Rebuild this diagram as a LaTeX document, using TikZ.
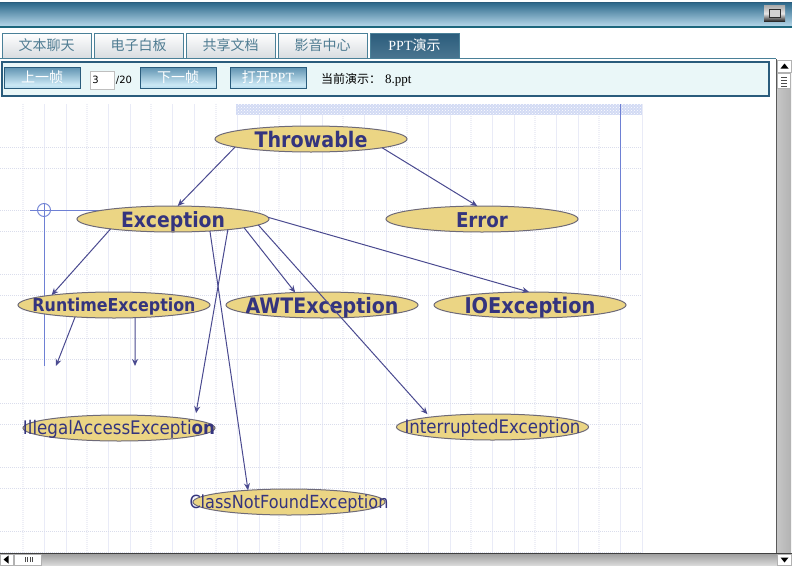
\documentclass[tikz,border=0pt]{standalone}
\usepackage{fontspec}
\usepackage{graphicx}
\setmainfont{DejaVu Sans}
\newfontfamily\cjk{Noto Sans CJK SC}
\newfontfamily\lat{Liberation Serif}
\usetikzlibrary{shapes.geometric,arrows.meta,patterns}
\definecolor{bandtop}{HTML}{2F6A8C}
\definecolor{bandbot}{HTML}{B4D6E8}
\definecolor{bordr}{HTML}{2A5C7C}
\definecolor{tabline}{HTML}{4A8098}
\definecolor{tabtxt}{HTML}{4F7C92}
\definecolor{tabbot}{HTML}{D8DCE0}
\definecolor{barfill}{HTML}{EAF7F8}
\definecolor{ink}{HTML}{34347E}
\definecolor{edgec}{HTML}{4A4A90}
\definecolor{ellfill}{HTML}{EBD584}
\definecolor{ellline}{HTML}{6E6A78}
\definecolor{gridc}{HTML}{E9EBF7}
\definecolor{griddotc}{HTML}{DADDEC}
\definecolor{griddotv}{HTML}{EEEFF6}
\definecolor{guide}{HTML}{6E80D4}
\definecolor{btnlow}{HTML}{B8DCEE}
\definecolor{btnglow}{HTML}{CBE8F5}
\definecolor{btnhigh}{HTML}{5E92B0}
\definecolor{bandfill}{HTML}{D2DAF4}
\pgfdeclareverticalshading{btnshade}{100bp}{color(0bp)=(btnlow); color(25bp)=(btnlow); color(33bp)=(btnglow); color(75bp)=(btnhigh); color(100bp)=(btnhigh)}
\newcommand{\elab}[3]{\smash{\makebox[0pt][c]{\raisebox{#2}{\scalebox{1}[1.12]{\resizebox{#1pt}{!}{\textcolor{ink}{#3}}}}}}}
\tikzset{
  x=1pt,y=-1pt,
  tabbox/.style={draw=tabline,line width=1pt,top color=white,bottom color=tabbot,minimum width=89pt,minimum height=25pt,inner sep=0pt,outer sep=0pt,text=tabtxt,font=\cjk\fontsize{14}{15}\selectfont},
  activetab/.style={draw=tabline,line width=1pt,top color=bordr,bottom color=bordr!85!white,minimum width=89pt,minimum height=25pt,inner sep=0pt,outer sep=0pt,text=white,font=\cjk\fontsize{14}{15}\selectfont},
  btn/.style={draw=bordr,line width=1pt,shading=btnshade,minimum width=76pt,minimum height=21pt,inner sep=0pt,outer sep=0pt,text=white,font=\cjk\fontsize{14}{15}\selectfont},
  ell/.style={ellipse,draw=ellline,line width=1pt,fill=ellfill,minimum width=192pt,minimum height=26pt,inner sep=0pt,outer sep=0pt},
  link/.style={draw=edgec,line width=1pt,-{Stealth[length=7pt,width=6pt]}},
  guideline/.style={draw=guide,line width=0.9pt},
  gridsolid/.style={draw=gridc,line width=0.9pt},
  griddot/.style={draw=griddotc,line width=0.9pt,dash pattern=on 1pt off 1pt},
  griddotvert/.style={draw=griddotv,line width=2pt,dash pattern=on 1pt off 1pt},
  plain/.style={inner sep=0pt,outer sep=0pt},
  sbar/.style={draw=none,inner sep=0pt,outer sep=0pt},
}
\begin{document}
\begin{tikzpicture}
\useasboundingbox (0,0) rectangle (792,565);
\fill[white] (0,0) rectangle (792,565);
% title band
\shade[top color=bandtop,bottom color=bandbot,shading angle=0] (0,3) rectangle (792,26);
\draw[bordr,line width=1.2pt] (0,2.2) -- (792,2.2);
\draw[bordr!70!teal,line width=1.5pt] (0,26.8) -- (792,26.8);
\node[sbar,top color=gray!65,bottom color=gray!25!black,middle color=gray!20,minimum width=21pt,minimum height=16pt] (restore) at (774.5,13.5) {};
\node[sbar,draw=gray!35!black,line width=1pt,fill=gray!35,minimum width=11pt,minimum height=8pt] (restorein) at (774.5,13) {};
% tabs
\node[tabbox] (t1) at (46.5,45.5) {文本聊天};
\node[tabbox] (t2) at (138.5,45.5) {电子白板};
\node[tabbox] (t3) at (230.5,45.5) {共享文档};
\node[tabbox] (t4) at (322.5,45.5) {影音中心};
\node[activetab] (t5) at (414.5,45.5) {{\lat PPT}演示};
\draw[tabline,line width=1pt] (0,58.5) -- (776,58.5);
% toolbar
\node[plain,draw=bordr,line width=2pt,fill=barfill,minimum width=767pt,minimum height=34pt] (bar) at (385.5,78.5) {};
\node[btn] (prev) at (42,77.5) {上一帧};
\node[plain,draw=gray!50,line width=1pt,fill=white,minimum width=24pt,minimum height=18pt,font=\fontsize{10}{11}\selectfont,text=black] (pg) at (102.5,80) {\hspace*{-14pt}3};
\node[plain,font=\fontsize{10}{11}\selectfont,text=black] (tot) at (124,80) {/20};
\node[btn] (next) at (178,77.5) {下一帧};
\node[btn] (open) at (268,77.5) {打开{\lat PPT}};
\node[plain,anchor=west,font=\cjk\fontsize{12}{13}\selectfont,text=black] (cur) at (321,80) {当前演示：\hspace{4pt}{\lat\fontsize{13}{13}\selectfont 8.ppt}};
% slide grid
\foreach \gx in {44,108,172,237,300,364,428,492,556,620}{
  \draw[gridsolid] (\gx,104) -- (\gx,553);
  \draw[gridsolid] (\gx+22,104) -- (\gx+22,553);
  \draw[griddotvert] (\gx-21,104) -- (\gx-21,553);
}
\foreach \gy in {147,210,274,338,403,467,531}{
  \draw[griddot] (0,\gy) -- (642,\gy);
  \draw[griddot] (0,\gy+21.5) -- (642,\gy+21.5);
}
\fill[bandfill] (236,104) rectangle (642,115);
\fill[pattern=crosshatch dots,pattern color=white] (236,104) rectangle (642,115);
% guides
\draw[guideline] (620,104) -- (620,270);
\draw[guideline] (44,203) -- (44,366);
\draw[guideline] (30,210) -- (100,210);
\draw[guideline] (44,210) circle[radius=6.5];
% ellipses
\node[ell] (throwable) at (311,139) {\elab{113}{-8pt}{\fontsize{20}{20}\selectfont\bfseries Throwable}};
\node[ell] (exception) at (173,219) {\elab{104}{-8pt}{\fontsize{20}{20}\selectfont\bfseries Exception}};
\node[ell] (error) at (482,219) {\elab{52}{-8pt}{\fontsize{20}{20}\selectfont\bfseries Error}};
\node[ell] (runtime) at (114,305) {\elab{163}{-6.5pt}{\fontsize{18}{18}\selectfont\bfseries RuntimeException}};
\node[ell] (awt) at (322,305) {\elab{153}{-8pt}{\fontsize{20}{20}\selectfont\bfseries AWTException}};
\node[ell] (io) at (530,305) {\elab{131}{-8pt}{\fontsize{20}{20}\selectfont\bfseries IOException}};
\node[ell] (illegal) at (119,428) {\elab{192}{-6.5pt}{\fontsize{18}{18}\selectfont IllegalAccessExcepti{\bfseries on}}};
\node[ell] (interrupted) at (492.5,427) {\elab{176}{-6.5pt}{\fontsize{18}{18}\selectfont InterruptedException}};
\node[ell] (classnf) at (289,502) {\elab{199}{-6.5pt}{\fontsize{18}{18}\selectfont ClassNotFoundException}};
% free ends
\coordinate (free1) at (56,366);
\coordinate (free2) at (135,366);
% connectors
\draw[link] (throwable.186) -- (exception.70);
\draw[link] (throwable.-7.6) -- (error.110);
\draw[link] (exception.189) -- (runtime.171);
\draw[link] (exception.-7.2) -- (awt.155);
\draw[link,shorten >=4pt] (exception.-4) -- (interrupted.171.4);
\draw[link] (exception.1.1) -- (io.94);
\draw[link,shorten >=7pt] (exception.-11.8) -- (illegal.6);
\draw[link] (exception.-18.4) -- (classnf.164.4);
\draw[link] (runtime.197.5) -- (free1);
\draw[link] (runtime.-31) -- (free2);
% vertical scrollbar
\shade[left color=gray!45,middle color=gray!22,right color=gray!60] (777,72) rectangle (791,553);
\draw[gray!70!black,line width=1pt] (776.5,59) -- (776.5,565);
\node[sbar,fill=white,draw=gray!60,line width=0.5pt,minimum width=14pt,minimum height=12pt] (vup) at (784.5,66) {};
\fill[black] (780.5,68.5) -- (788.5,68.5) -- (784.5,63.5) -- cycle;
\node[sbar,fill=white,draw=gray!60,line width=0.8pt,minimum width=13pt,minimum height=15pt] (vthumb) at (784,81) {};
\draw[gray!60!black,line width=0.8pt] (781,77) -- (787,77) (781,80) -- (787,80) (781,83) -- (787,83) (781,86) -- (787,86);
% horizontal scrollbar
\shade[top color=gray!75,bottom color=gray!30] (0,554) rectangle (777,565);
\draw[gray!50!black,line width=1.2pt] (0,553.5) -- (792,553.5);
\node[sbar,fill=white,draw=gray!60,line width=0.5pt,minimum width=13pt,minimum height=11pt] (hleft) at (6.5,559.5) {};
\fill[black] (3.5,559.5) -- (8.5,555.5) -- (8.5,563.5) -- cycle;
\node[sbar,fill=white,draw=gray!60,line width=0.8pt,minimum width=27pt,minimum height=11pt] (hthumb) at (28,559.5) {};
\draw[gray!60!black,line width=0.8pt] (25,557) -- (25,562) (27.5,557) -- (27.5,562) (30,557) -- (30,562) (32.5,557) -- (32.5,562);
\node[sbar,fill=white,draw=gray!60,line width=0.5pt,minimum width=14pt,minimum height=11pt] (vdown) at (784.5,559.5) {};
\fill[black] (780.5,557.5) -- (788.5,557.5) -- (784.5,562.5) -- cycle;
\end{tikzpicture}
\end{document}
